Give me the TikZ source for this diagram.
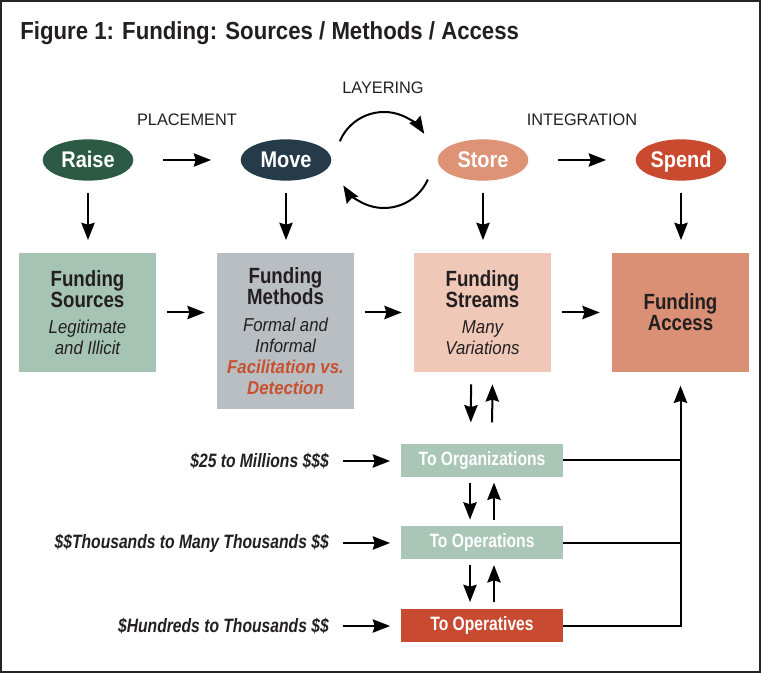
\documentclass[tikz,border=0pt]{standalone}
\usepackage{fontspec}
\setmainfont{Liberation Sans}[FakeStretch=0.85]
\newfontfamily\condfont{Liberation Sans}[FakeStretch=0.81]
\newfontfamily\titlefont{Liberation Sans}[FakeStretch=0.9]
\newfontfamily\labfont{Liberation Sans}[FakeStretch=0.98]
\newfontfamily\ellfont{Liberation Sans}[FakeStretch=0.88]
\newfontfamily\itfont{Liberation Sans}[FakeStretch=0.9]
\usetikzlibrary{arrows.meta,shapes.geometric}
\definecolor{ink}{HTML}{231F20}
\definecolor{cRaise}{HTML}{2C5A44}
\definecolor{cMove}{HTML}{263B4A}
\definecolor{cStore}{HTML}{DE9276}
\definecolor{cSpend}{HTML}{C94A2F}
\definecolor{cSrc}{HTML}{A6C4B3}
\definecolor{cMeth}{HTML}{B8BEC2}
\definecolor{cStrm}{HTML}{EFC8B8}
\definecolor{cAcc}{HTML}{D99074}
\definecolor{cSmall}{HTML}{A9C6B6}
\definecolor{cOpv}{HTML}{C84B31}
\definecolor{cRed}{HTML}{C8502F}
\newcommand{\itl}[1]{{\itfont\fontsize{14}{16.5}\selectfont\itshape #1}}
\newcommand{\redl}[1]{{\itfont\fontsize{14}{16.5}\selectfont\bfseries\itshape\color{cRed}#1}}
\tikzset{
  ell/.style={ellipse, minimum width=68pt, minimum height=31pt, inner sep=0pt, text=white, text height=12pt, text depth=0pt, font=\ellfont\fontsize{17}{19}\selectfont\bfseries},
  lab/.style={text=ink, font=\labfont\fontsize{12.5}{14}\selectfont, inner sep=0pt},
  bigbox/.style={minimum width=102.75pt, minimum height=89.25pt, inner sep=0pt, text=ink, align=center, font=\fontsize{16.5}{15.75}\selectfont},
  smallbox/.style={minimum width=121.5pt, minimum height=24.75pt, inner sep=0pt, text=white, font=\condfont\fontsize{14.5}{16}\selectfont\bfseries},
  leftlab/.style={text=ink, anchor=east, inner sep=0pt, font=\condfont\fontsize{14.5}{16}\selectfont\bfseries\itshape},
  arr/.style={draw=black, line width=1.5pt, -{Stealth[length=13pt,width=10pt,inset=1.5pt]}},
  plain/.style={draw=black, line width=1.5pt}
}
\begin{document}
\begin{tikzpicture}[x=0.75pt,y=0.75pt]
\useasboundingbox (0,0) rectangle (761,-673);
\fill[white] (0,0) rectangle (761,-673);
\draw[line width=1.5pt, draw=black!85] (1,-1) rectangle (760,-672);

\node[anchor=base west, inner sep=0pt, text=ink, font=\titlefont\fontsize{18.5}{20}\selectfont\bfseries] (title) at (20,-40) {Figure 1: Funding: Sources / Methods / Access};

% stage labels
\node[lab] (plac) at (187,-120) {PLACEMENT};
\node[lab] (layer) at (383,-88) {LAYERING};
\node[lab] (integ) at (582,-120) {INTEGRATION};

% ellipses
\node[ell, fill=cRaise] (raise) at (88,-160) {Raise};
\node[ell, fill=cMove] (move) at (286,-160) {Move};
\node[ell, fill=cStore] (store) at (483,-160) {Store};
\node[ell, fill=cSpend] (spend) at (681,-160) {Spend};
\coordinate (lc) at (384,-160);

% big boxes
\node[bigbox, fill=cSrc] (src) at (87.5,-312.5) {\bfseries Funding\\\bfseries Sources\\[4pt]\itl{Legitimate}\\\itl{and Illicit}};
\node[bigbox, fill=cMeth, minimum height=117pt] (meth) at (285.5,-331) {\bfseries Funding\\\bfseries Methods\\[4pt]\itl{Formal and}\\\itl{Informal}\\\redl{Facilitation vs.}\\\redl{Detection}};
\node[bigbox, fill=cStrm] (strm) at (482.5,-312.5) {\bfseries Funding\\\bfseries Streams\\[4pt]\itl{Many}\\\itl{Variations}};
\node[bigbox, fill=cAcc] (acc) at (680.5,-312.5) {\bfseries Funding\\\bfseries Access};

% small boxes
\node[smallbox, fill=cSmall] (org) at (482,-460.5) {To Organizations};
\node[smallbox, fill=cSmall] (ops) at (482,-543) {To Operations};
\node[smallbox, fill=cOpv] (opv) at (482,-625.5) {To Operatives};

% left labels
\node[leftlab] (l1) at (329,-461) {\$25 to Millions \$\$\$};
\node[leftlab] (l2) at (329,-543) {\$\$Thousands to Many Thousands \$\$};
\node[leftlab] (l3) at (329,-626) {\$Hundreds to Thousands \$\$};

% ellipse arrows
\draw[arr, shorten <=22pt, shorten >=22pt] (raise) -- (move);
\draw[arr, shorten <=22pt, shorten >=22pt] (store) -- (spend);
\draw[arr] ([shift={(157:36pt)}]lc) arc[start angle=157, end angle=33, radius=36pt];
\draw[arr] ([shift={(-24:36pt)}]lc) arc[start angle=-24, end angle=-148, radius=36pt];

\foreach \a/\b in {raise/src, move/meth, store/strm, spend/acc}
  \draw[arr, shorten <=9pt, shorten >=9.5pt] (\a.south) -- (\b.north -| \a.south);

% box arrows
\draw[arr, shorten <=8pt, shorten >=9pt] (src.east) -- (src.east -| meth.west);
\draw[arr, shorten <=8pt, shorten >=9pt] (strm.west -| meth.east) -- (strm.west);
\draw[arr, shorten <=8pt, shorten >=9pt] (strm.east) -- (acc.west);

% streams <-> small boxes
\draw[arr, shorten <=9pt, shorten >=16pt] ([xshift=-8.5pt]strm.south) -- ([xshift=-8.5pt]org.north);
\draw[arr, shorten <=16pt, shorten >=9pt] ([xshift=7.5pt]org.north) -- ([xshift=7.5pt]strm.south);
\draw[arr, shorten <=4pt, shorten >=5pt] ([xshift=-9pt]org.south) -- ([xshift=-9pt]ops.north);
\draw[arr, shorten <=5pt, shorten >=4pt] ([xshift=9pt]ops.north) -- ([xshift=9pt]org.south);
\draw[arr, shorten <=4pt, shorten >=5pt] ([xshift=-9pt]ops.south) -- ([xshift=-9pt]opv.north);
\draw[arr, shorten <=5pt, shorten >=4pt] ([xshift=9pt]opv.north) -- ([xshift=9pt]ops.south);

% left label arrows
\foreach \l/\b in {l1/org, l2/ops, l3/opv}
  \draw[arr, shorten <=10.5pt, shorten >=8pt] (\l.east) -- (\l.east -| \b.west);

% right connectors
\draw[arr, shorten >=10pt] (opv.east) -| (acc.south);
\draw[plain] (org.east) -- (org.east -| acc.south);
\draw[plain] (ops.east) -- (ops.east -| acc.south);
\end{tikzpicture}
\end{document}
